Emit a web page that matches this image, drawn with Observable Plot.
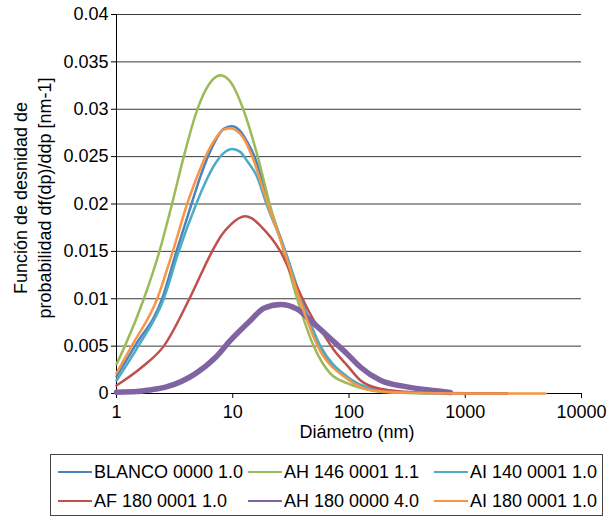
<!DOCTYPE html>
<html><head><meta charset="utf-8">
<script src="https://cdn.jsdelivr.net/npm/d3@7"></script>
<script src="https://cdn.jsdelivr.net/npm/@observablehq/plot@0.6"></script>
<style>
body{margin:0;background:#fff;font-family:"Liberation Sans",Arial,sans-serif;}
#wrap{position:relative;width:611px;height:518px;overflow:hidden;}
#chart{position:absolute;left:0;top:0;}
#legend{position:absolute;left:50px;top:454px;width:553px;height:62px;border:1px solid #444;box-sizing:border-box;}
.item{position:absolute;display:flex;align-items:center;font-size:18px;white-space:nowrap;height:22px;color:#000;}
.sw{width:34px;height:2.5px;margin-right:2px;}
</style></head><body><div id="wrap"><div id="chart"></div><div id="legend"></div></div>
<script>
const seriesNames = ["BLANCO 0000 1.0","AH 146 0001 1.1","AI 140 0001 1.0","AF 180 0001 1.0","AH 180 0000 4.0","AI 180 0001 1.0"];
const seriesColors = ["#4F81BD","#9BBB59","#4BACC6","#C0504D","#8064A2","#F79646"];
const seriesWidths = [2.5,2.5,2.5,2.5,5.5,2.5];

const blancoX = [1,1.44,2.47,3.28,4.42,5.2,6.02,7.1,8.3,9.78,11.6,13.4,15.4,20.4,28.3,38.3,54.9,96,160,300,1000,2300];
const blancoY = [0.0018,0.005,0.010,0.015,0.020,0.0227,0.0248,0.0267,0.0279,0.0282,0.0277,0.0265,0.025,0.020,0.015,0.010,0.005,0.0017,0.0004,0.0001,0,0];

const ah146X = [1,1.18,1.72,2.34,3.0,3.79,4.87,5.82,7.84,9.55,12.4,16.4,20.8,27.5,35.8,49.7,69.2,96,125,230,500];
const ah146Y = [0.0031,0.005,0.010,0.015,0.020,0.025,0.0297,0.0320,0.0336,0.0329,0.0299,0.025,0.020,0.015,0.010,0.005,0.0021,0.0011,0.0006,0.0001,0];

const ai140X = [1,1.54,2.55,3.43,4.85,5.63,7.1,8.4,9.9,11.6,13.2,16,19.5,28.3,38.9,56.9,96,160,300,700];
const ai140Y = [0.00137,0.005,0.010,0.015,0.020,0.0219,0.0243,0.0254,0.0258,0.0255,0.0246,0.0230,0.020,0.015,0.010,0.005,0.0018,0.0005,0.0001,0];

const af180X = [1,1.66,2.55,4.24,6.65,8,9.55,12.8,14.5,17.3,25.7,35.8,50,60,75,96,125,186,400,2300];
const af180Y = [0.00084,0.0028,0.005,0.010,0.015,0.0167,0.0178,0.0187,0.0185,0.0177,0.015,0.0112,0.0077,0.0063,0.0045,0.0030,0.0014,0.0005,0.0001,0];

const ah180X = [1,1.5,2,2.64,4.78,7.1,9.55,14.2,18.5,25.7,35.8,49.7,69.2,96,125,186,316,611,745];
const ah180Y = [0.00014,0.0002,0.0004,0.00067,0.0021,0.0038,0.0056,0.0077,0.0090,0.0094,0.0089,0.0074,0.0058,0.0042,0.0028,0.0014,0.0007,0.00024,0.0001];

const ai180X = [1,1.35,2.24,3.05,4.05,4.8,5.63,7.1,8.2,9.4,11.6,13.1,14.7,20.0,27.8,37.5,53.8,96,162,300,1000,4900];
const ai180Y = [0.00214,0.005,0.010,0.015,0.020,0.0225,0.0246,0.0269,0.0278,0.0280,0.0274,0.0264,0.025,0.020,0.015,0.010,0.005,0.00155,0.0003,0.0001,0,0];

const xTicks = [1,10,100,1000,10000];
const yTicks = [0,0.005,0.01,0.015,0.02,0.025,0.03,0.035,0.04];

const seriesX = [blancoX, ah146X, ai140X, af180X, ah180X, ai180X];
const seriesY = [blancoY, ah146Y, ai140Y, af180Y, ah180Y, ai180Y];

const lineMarks = seriesNames.map((name, i) => {
  const rows = seriesX[i].map((x, j) => ({d: x, f: seriesY[i][j]}));
  return Plot.line(rows, {x: "d", y: "f", stroke: seriesColors[i], strokeWidth: seriesWidths[i], curve: "monotone-x"});
});

const chart = Plot.plot({
  width: 611, height: 448,
  marginLeft: 116, marginRight: 30, marginTop: 14, marginBottom: 55,
  style: {fontFamily: "'Liberation Sans', Arial, sans-serif", fontSize: "18px", color: "#000", background: "#fff", overflow: "visible"},
  x: {type: "log", domain: [1, 10000]},
  y: {domain: [0, 0.04]},
  marks: [
    Plot.ruleY(yTicks, {stroke: "#3a3a3a", strokeWidth: 1}),
    Plot.axisY({ticks: yTicks, tickFormat: d => String(+d.toFixed(3)), tickSize: 5, tickPadding: 3, label: null}),
    Plot.axisX({ticks: xTicks, tickFormat: d => String(d), tickSize: 5, tickPadding: 7, label: null}),
    Plot.ruleX([1], {stroke: "#000"}),
    Plot.ruleY([0], {stroke: "#000"}),
    ...lineMarks,
    Plot.text(["Diámetro (nm)"], {frameAnchor: "bottom", dy: 44, dx: 8, fontSize: 18}),
    Plot.text(["Función de desnidad de\nprobabilidad df(dp)/ddp [nm-1]"], {frameAnchor: "left", textAnchor: "middle", rotate: -90, dx: -85, dy: -6, lineHeight: 1.33, fontSize: 18})
  ]
});
document.getElementById("chart").appendChild(chart);

const legend = document.getElementById("legend");
const legendOrder = [0,1,2,3,4,5];
const colLeft = [7, 197, 383];
const rowTop = [6, 35];
legendOrder.forEach((i, k) => {
  const it = document.createElement("div");
  it.className = "item";
  it.style.left = colLeft[k % 3] + "px";
  it.style.top = rowTop[Math.floor(k / 3)] + "px";
  const sw = document.createElement("div");
  sw.className = "sw";
  sw.style.background = seriesColors[i];
  const tx = document.createElement("span");
  tx.textContent = seriesNames[i];
  it.appendChild(sw); it.appendChild(tx);
  legend.appendChild(it);
});
</script>
</body></html>
